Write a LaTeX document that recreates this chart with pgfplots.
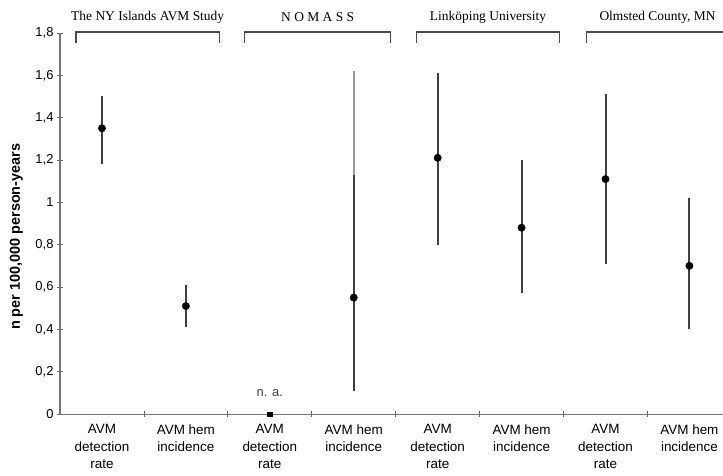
\documentclass[border=0pt]{standalone}
\usepackage{fontspec}
\setmainfont{Liberation Serif}
\setsansfont{Liberation Sans}
\usepackage{pgfplots}
\pgfplotsset{compat=1.18}
\usepackage{pgfplotstable}
\usetikzlibrary{calc}

% x = category index, y = rate, ep/em = distance to upper/lower end of the range
\pgfplotstableread{
x y ep em
0 1.35 0.15 0.17
1 0.51 0.10 0.10
4 1.21 0.40 0.41
5 0.88 0.32 0.31
6 1.11 0.40 0.40
7 0.70 0.32 0.30
}\rates
% NOMASS hem incidence: dark part of the range, and its lighter upper part
\pgfplotstableread{
x y ep em
3 0.55 0.58 0.44
}\nomassdark
\pgfplotstableread{
x y ep em
3 0.55 1.07 0
}\nomasslight

\begin{document}
\begin{tikzpicture}
\begin{axis}[
  scale only axis,
  width=663bp, height=381bp,
  xmin=-0.5, xmax=7.4,
  ymin=0, ymax=1.8,
  clip=false,
  axis x line=bottom, axis y line=left,
  axis line style={-},
  x axis line style={black!55, line width=0.8bp},
  y axis line style={black!55, line width=1.2bp},
  tick align=center,
  xtick={0,...,7},
  xticklabels={{AVM\\detection\\rate},{AVM hem\\incidence},
                {AVM\\detection\\rate},{AVM hem\\incidence},
                {AVM\\detection\\rate},{AVM hem\\incidence},
                {AVM\\detection\\rate},{AVM hem\\incidence}},
  major x tick style={draw=none},
  minor xtick={0.5,1.5,2.5,3.5,4.5,5.5,6.5},
  minor tick length=6bp,
  minor x tick style={black!60, line width=0.8bp},
  ytick={0,0.2,0.4,0.6,0.8,1,1.2,1.4,1.6,1.8},
  major tick length=6bp,
  y tick style={black!60, line width=0.8bp},
  xticklabel style={align=center, font=\sffamily\fontsize{13.5}{17.5}\selectfont, yshift=-4bp},
  yticklabel style={font=\sffamily\fontsize{13}{15}\selectfont,
    /pgf/number format/.cd, use comma, fixed, precision=1},
  /pgf/number format/assume math mode=true,
  ylabel={n per 100,000 person-years},
  ylabel style={font=\sffamily\bfseries\fontsize{14.5}{16}\selectfont,
    at={(axis description cs:-0.066,0.465)}, anchor=center},
  error bars/error bar style={line width=2bp, black!75},
  error bars/error mark=none,
]
\addplot[only marks, mark=*, mark size=3.7bp, black,
  error bars/.cd, y dir=both, y explicit]
  table[x=x, y=y, y error plus=ep, y error minus=em] {\rates};
\addplot[only marks, mark=none,
  error bars/.cd, y dir=plus, y explicit,
  error bar style={line width=2bp, black!40}]
  table[x=x, y=y, y error plus=ep, y error minus=em] {\nomasslight};
\addplot[only marks, mark=*, mark size=3.7bp, black,
  error bars/.cd, y dir=both, y explicit]
  table[x=x, y=y, y error plus=ep, y error minus=em] {\nomassdark};
% NOMASS detection rate: not available
\addplot[only marks, mark=square*, mark size=2.3bp, black] coordinates {(2,0)};
\node[font=\sffamily\fontsize{13}{15}\selectfont, text=black!75] at (axis cs:2,0.1) {n. a.};

% study brackets and titles
\tikzset{bracket/.style={black!70, line width=1.2bp}}
\draw[bracket] (axis cs:-0.31,1.755) |- (axis cs:1.40,1.805) -- (axis cs:1.40,1.755);
\draw[bracket] (axis cs:1.70,1.755) |- (axis cs:3.44,1.805) -- (axis cs:3.44,1.755);
\draw[bracket] (axis cs:3.75,1.755) |- (axis cs:5.45,1.805) -- (axis cs:5.45,1.755);
\draw[bracket] (axis cs:5.77,1.755) |- (axis cs:7.45,1.805) -- (axis cs:7.45,1.755);
\begin{scope}[every node/.style={font=\rmfamily\fontsize{13.5}{16}\selectfont}]
\node at (axis cs:0.545,1.876) {The NY Islands AVM Study};
\node at (axis cs:2.57,1.876) {N O M A S S};
\node at (axis cs:4.60,1.876) {Linköping University};
\node at (axis cs:6.62,1.876) {Olmsted County, MN};
\end{scope}
\end{axis}
\pgfresetboundingbox
\path ($(current axis.south west)+(-60bp,-61bp)$) rectangle ($(current axis.north east)+(0bp,33bp)$);
\end{tikzpicture}
\end{document}
